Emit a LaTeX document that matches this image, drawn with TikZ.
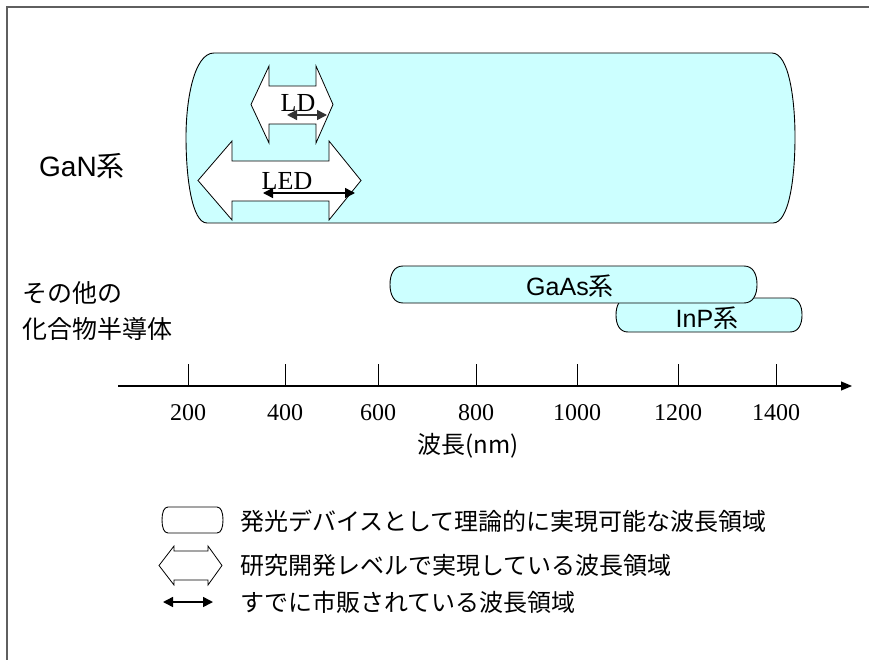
\documentclass[tikz,border=0pt]{standalone}
\usepackage{fontspec}
\setmainfont{Liberation Serif}
\newfontfamily\jpfont{Noto Sans CJK JP}
\newfontfamily\arialfont{Liberation Sans}
\usetikzlibrary{arrows.meta}
\definecolor{cyanfill}{RGB}{204,255,255}
\definecolor{framegray}{RGB}{95,95,95}
\tikzset{
  regionline/.style={draw=black, line width=0.9pt},
  hollowarrow/.style={draw=black, line width=0.8pt, fill=white, line join=miter},
  marketarrow/.style={line width=1.5pt, {Triangle[length=10pt,width=10pt]}-{Triangle[length=10pt,width=10pt]}},
  jptext/.style={font=\jpfont\fontsize{24}{28}\selectfont, inner sep=0pt},
  sidetext/.style={font=\jpfont\fontsize{25}{29}\selectfont, inner sep=0pt, anchor=west},
  barlabel/.style={font=\fontsize{25}{29}\selectfont, inner sep=0pt},
  romantext/.style={font=\fontsize{26}{30}\selectfont, inner sep=0pt},
  ticklabel/.style={font=\fontsize{24}{28}\selectfont, inner sep=0pt},
  axisline/.style={line width=1.1pt, -{Triangle[length=11pt,width=9pt]}},
  tickline/.style={line width=0.7pt},
}
% rounded bar: x1,y1,x2,y2,corner,fill
\newcommand\roundbar[6]{%
  \draw[regionline, fill=#6] ({#1+#5},{#2}) -- ({#3-#5},{#2})
    .. controls ({#3-0.3*#5},{#2}) and ({#3},{#2+0.22*(#4-#2)}) .. ({#3},{(#2+#4)/2})
    .. controls ({#3},{#4-0.22*(#4-#2)}) and ({#3-0.3*#5},{#4}) .. ({#3-#5},{#4})
    -- ({#1+#5},{#4})
    .. controls ({#1+0.3*#5},{#4}) and ({#1},{#4-0.22*(#4-#2)}) .. ({#1},{(#2+#4)/2})
    .. controls ({#1},{#2+0.22*(#4-#2)}) and ({#1+0.3*#5},{#2}) .. cycle;}
% hollow double arrow: xtipL, xshaftL, xshaftR, xtipR, yheadtop, yshafttop, yshaftbot, yheadbot
\newcommand\hollowdouble[8]{%
  \draw[hollowarrow] ({#1},{(#5+#8)/2}) -- ({#2},{#5}) -- ({#2},{#6}) -- ({#3},{#6})
    -- ({#3},{#5}) -- ({#4},{(#5+#8)/2}) -- ({#3},{#8}) -- ({#3},{#7})
    -- ({#2},{#7}) -- ({#2},{#8}) -- cycle;}
\begin{document}
\begin{tikzpicture}[x=1pt,y=-1pt]
\useasboundingbox (0,0) rectangle (869,660);
% frame
\coordinate (frameTL) at (7,7);
\coordinate (frameTR) at (869,7);
\coordinate (frameBL) at (7,660);
\draw[framegray, line width=1.6pt] (frameBL) -- (frameTL) -- (frameTR);

% GaN region
\draw[regionline, fill=cyanfill] (214,53) -- (772,53)
  .. controls (789,53) and (795,100) .. (795,137)
  .. controls (795,178) and (789,223) .. (773,223)
  -- (207,223)
  .. controls (192,223) and (186,178) .. (186,137)
  .. controls (186,100) and (194,53) .. cycle;
\node[font=\fontsize{28}{32}\selectfont, inner sep=0pt] (gan) at (82,166) {{\arialfont GaN}{\jpfont 系}};

% LD
\hollowdouble{251}{269}{316}{333}{66}{86}{124}{143}
\node[romantext] (ld) at (298,103) {LD};
\coordinate (ldL) at (287,115);
\coordinate (ldR) at (327,115);
\draw[marketarrow, black!80] (ldL) -- (ldR);

% LED
\hollowdouble{198}{232}{329}{361}{141}{161}{201}{220}
\node[romantext] (led) at (287,181) {LED};
\coordinate (ledL) at (263,193);
\coordinate (ledR) at (355,193);
\draw[marketarrow] (ledL) -- (ledR);

% other compounds
\node[sidetext] (other1) at (22,293) {その他の};
\node[sidetext] (other2) at (22,329) {化合物半導体};
\roundbar{616}{298}{802}{332}{12}{cyanfill}
\node[barlabel] (inp) at (707,318) {{\arialfont InP}{\jpfont 系}};
\roundbar{390}{266}{757}{303}{13}{cyanfill}
\node[barlabel] (gaas) at (570,286) {{\arialfont GaAs}{\jpfont 系}};

% axis
\coordinate (axL) at (118,386);
\coordinate (axR) at (852,386);
\draw[axisline] (axL) -- (axR);
\foreach \xx/\lab in {188/200, 285/400, 378/600, 476/800, 577/1000, 678/1200, 776/1400}{
  \coordinate (tk\lab) at (\xx,364);
  \coordinate (tb\lab) at (\xx,386);
  \draw[tickline] (tk\lab) -- (tb\lab);
  \node[ticklabel] (lab\lab) at (\xx,413) {\lab};
}
\node[jptext] (axname) at (468,446) {波長(nm)};

% legend
\roundbar{162}{507}{223}{533}{6}{white}
\node[jptext, anchor=west] (leg1) at (240,521) {発光デバイスとして理論的に実現可能な波長領域};
\hollowdouble{159}{174}{208}{222}{546}{551}{580}{585}
\node[jptext, anchor=west] (leg2) at (240,565) {研究開発レベルで実現している波長領域};
\coordinate (legL) at (163,602);
\coordinate (legR) at (213,602);
\draw[marketarrow] (legL) -- (legR);
\node[jptext, anchor=west] (leg3) at (240,602) {すでに市販されている波長領域};
\end{tikzpicture}
\end{document}
